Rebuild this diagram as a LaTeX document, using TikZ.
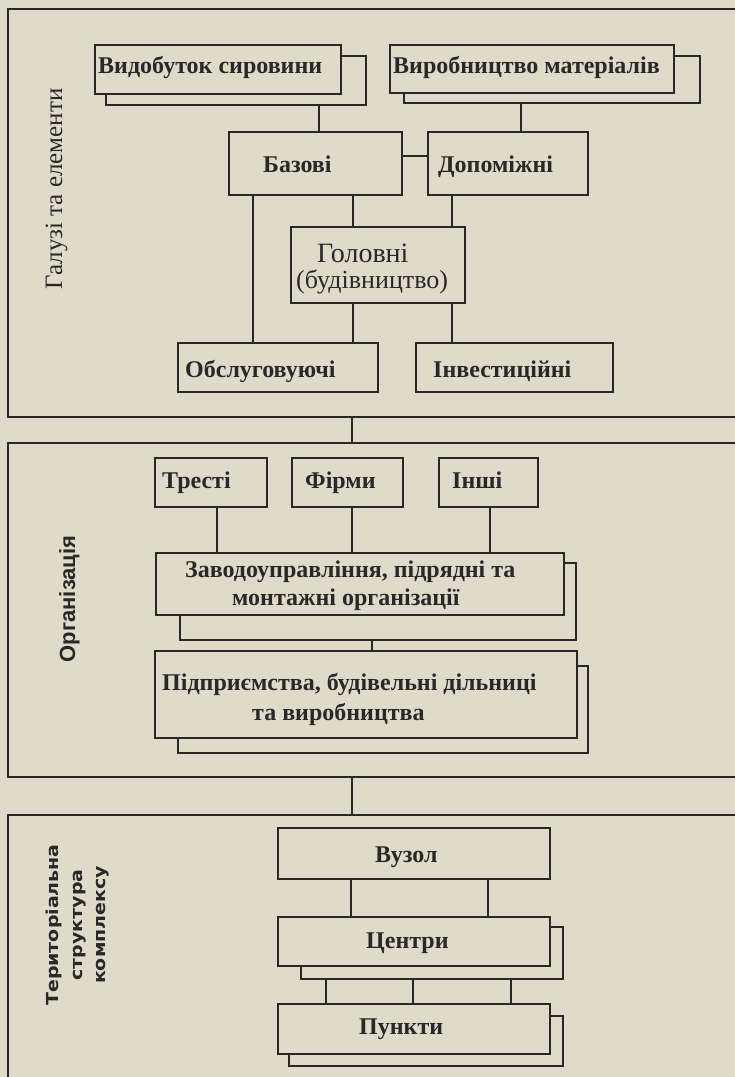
\documentclass[tikz,border=0pt]{standalone}
\usepackage{fontspec}
\setmainfont{Liberation Serif}
\newfontfamily\sansb{Liberation Sans}
\newfontfamily\terr[FakeStretch=1.15]{DejaVu Sans}
\definecolor{bg}{RGB}{223,219,203}
\definecolor{ink}{RGB}{42,40,38}
\newcommand\mkbox[6][]{\node[box,#1,anchor=north west,minimum width={#5-#3},minimum height={#6-#4}] (#2) at (#3,#4) {};}
\tikzset{
  box/.style={draw=ink,fill=bg,line width=1.8pt,inner sep=0pt,outer sep=0pt},
  frame/.style={fill=none,line width=2pt},
  conn/.style={draw=ink,line width=1.5pt},
  lbl/.style={font=\bfseries\fontsize{24}{28}\selectfont,inner sep=0pt,anchor=base west,text=ink},
  glbl/.style={font=\fontsize{28}{30}\selectfont,inner sep=0pt,anchor=base west,text=ink},
}
\begin{document}
\begin{tikzpicture}[x=1pt,y=-1pt]
\useasboundingbox (0,0) rectangle (735,1077);
\clip (0,0) rectangle (735,1077);
\fill[bg] (0,0) rectangle (735,1077);
% frames
\mkbox[frame]{f1}{8}{9}{760}{417}
\mkbox[frame]{f2}{8}{443}{760}{777}
\mkbox[frame]{f3}{8}{815}{760}{1110}
% section labels
\node[rotate=90,anchor=base,inner sep=0pt,text=ink,font=\fontsize{25}{28}\selectfont] (lg) at (62,189) {Галузі та елементи};
\node[rotate=90,anchor=base,inner sep=0pt,text=ink,font=\sansb\bfseries\fontsize{22}{26}\selectfont] (lo) at (75,599) {Організація};
\node[rotate=90,align=center,inner sep=0pt,text=ink,font=\terr\bfseries\fontsize{16.5}{23.5}\selectfont] (lt) at (78,925) {Територіальна\\структура\\комплексу};
% boxes section 1
\mkbox{vidB}{106}{56}{366}{105}
\mkbox{vidF}{95}{45}{341}{94}
\mkbox{vyrB}{404}{56}{700}{103}
\mkbox{vyrF}{390}{45}{674}{93}
\mkbox{baz}{229}{132}{402}{195}
\mkbox{dop}{428}{132}{588}{195}
\mkbox{gol}{291}{227}{465}{303}
\mkbox{obsl}{178}{343}{378}{392}
\mkbox{inv}{416}{343}{613}{392}
% boxes section 2
\mkbox{trest}{155}{458}{267}{507}
\mkbox{firm}{292}{458}{403}{507}
\mkbox{inshi}{439}{458}{538}{507}
\mkbox{zavB}{180}{563}{576}{640}
\mkbox{zavF}{156}{553}{564}{615}
\mkbox{pidB}{178}{666}{588}{753}
\mkbox{pidF}{155}{651}{577}{738}
% boxes section 3
\mkbox{vuz}{278}{828}{550}{879}
\mkbox{cenB}{301}{927}{563}{979}
\mkbox{cenF}{278}{917}{550}{966}
\mkbox{punB}{289}{1016}{563}{1066}
\mkbox{punF}{278}{1004}{550}{1054}
% connectors
\draw[conn] (vidB.south -| 319,0) -- (baz.north -| 319,0);
\draw[conn] (vyrB.south -| 521,0) -- (dop.north -| 521,0);
\draw[conn] (baz.east |- 0,156) -- (dop.west |- 0,156);
\draw[conn] (baz.south -| 253,0) -- (obsl.north -| 253,0);
\draw[conn] (baz.south -| 353,0) -- (gol.north -| 353,0);
\draw[conn] (dop.south -| 452,0) -- (gol.north -| 452,0);
\draw[conn] (gol.south -| 353,0) -- (obsl.north -| 353,0);
\draw[conn] (gol.south -| 452,0) -- (inv.north -| 452,0);
\draw[conn] (f1.south -| 352,0) -- (f2.north -| 352,0);
\draw[conn] (trest.south -| 217,0) -- (zavF.north -| 217,0);
\draw[conn] (firm.south -| 352,0) -- (zavF.north -| 352,0);
\draw[conn] (inshi.south -| 490,0) -- (zavF.north -| 490,0);
\draw[conn] (zavB.south -| 372,0) -- (pidF.north -| 372,0);
\draw[conn] (f2.south -| 352,0) -- (f3.north -| 352,0);
\draw[conn] (vuz.south -| 351,0) -- (cenF.north -| 351,0);
\draw[conn] (vuz.south -| 488,0) -- (cenF.north -| 488,0);
\draw[conn] (cenB.south -| 326,0) -- (punF.north -| 326,0);
\draw[conn] (cenB.south -| 413,0) -- (punF.north -| 413,0);
\draw[conn] (cenB.south -| 511,0) -- (punF.north -| 511,0);
% texts
\node[lbl] (tvid) at (98,73) {Видобуток сировини};
\node[lbl] (tvyr) at (393,73) {Виробництво матеріалів};
\node[lbl] (tbaz) at (263,172) {Базові};
\node[lbl] (tdop) at (438,172) {Допоміжні};
\node[glbl] (tgol1) at (317,262) {Головні};
\node[glbl,font=\fontsize{26}{30}\selectfont] (tgol2) at (296,288) {(будівництво)};
\node[lbl] (tobsl) at (185,377) {Обслуговуючі};
\node[lbl] (tinv) at (433,377) {Інвестиційні};
\node[lbl] (ttr) at (162,488) {Тресті};
\node[lbl] (tfi) at (305,488) {Фірми};
\node[lbl] (tin) at (452,488) {Інші};
\node[lbl] (tzav1) at (185,577) {Заводоуправління, підрядні та};
\node[lbl] (tzav2) at (232,605) {монтажні організації};
\node[lbl] (tpid1) at (162,690) {Підприємства, будівельні дільниці};
\node[lbl] (tpid2) at (252,720) {та виробництва};
\node[lbl] (tvuz) at (375,862) {Вузол};
\node[lbl] (tcen) at (366,948) {Центри};
\node[lbl] (tpun) at (359,1034) {Пункти};
\end{tikzpicture}
\end{document}
